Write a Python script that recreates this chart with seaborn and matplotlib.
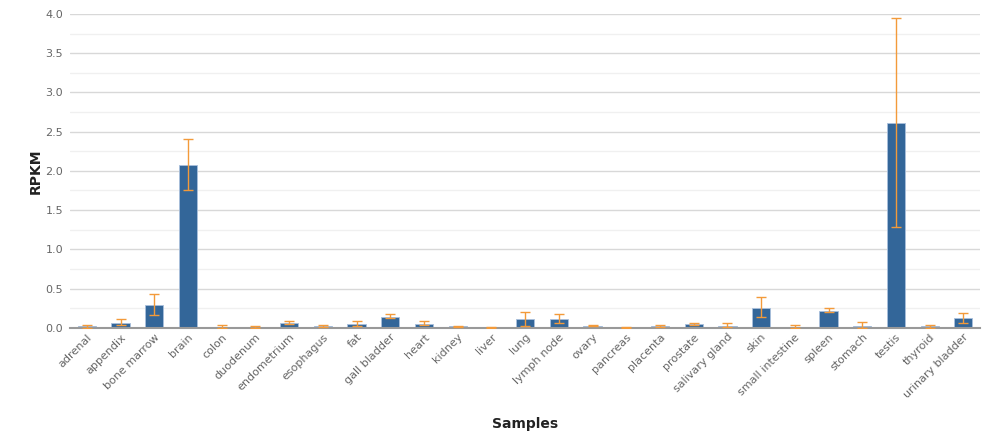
import numpy as np
import pandas as pd
import matplotlib
matplotlib.use("Agg")
import matplotlib.pyplot as plt
import seaborn as sns
from matplotlib.ticker import MultipleLocator

samples = ["adrenal", "appendix", "bone marrow", "brain", "colon", "duodenum",
           "endometrium", "esophagus", "fat", "gall bladder", "heart", "kidney",
           "liver", "lung", "lymph node", "ovary", "pancreas", "placenta",
           "prostate", "salivary gland", "skin", "small intestine", "spleen",
           "stomach", "testis", "thyroid", "urinary bladder"]
rpkm = [0.02, 0.06, 0.29, 2.08, 0.013, 0.008, 0.06, 0.02, 0.047, 0.14, 0.047, 0.017,
        0.004, 0.106, 0.106, 0.025, 0.004, 0.025, 0.047, 0.025, 0.254, 0.013, 0.212,
        0.025, 2.61, 0.017, 0.12]
err_low = [0.0, 0.034, 0.16, 1.75, 0.0, 0.0, 0.042, 0.01, 0.017, 0.12, 0.03, 0.01,
           0.0, 0.017, 0.055, 0.017, 0.002, 0.013, 0.035, 0.008, 0.136, 0.0, 0.195,
           0.0, 1.29, 0.0, 0.055]
err_high = [0.04, 0.106, 0.436, 2.41, 0.04, 0.016, 0.08, 0.03, 0.09, 0.18, 0.09, 0.025,
            0.008, 0.2, 0.174, 0.04, 0.006, 0.04, 0.064, 0.055, 0.386, 0.04, 0.246,
            0.068, 3.95, 0.04, 0.19]

df = pd.DataFrame({"Samples": samples, "RPKM": rpkm})

sns.set_style("white")
plt.rcParams['font.family'] = ['DejaVu Sans']

fig = plt.figure(figsize=(9.83, 4.37), dpi=100)
ax = fig.add_axes([0.0712, 0.25, 0.926, 0.718])

sns.barplot(data=df, x="Samples", y="RPKM", color="#336699", saturation=1,
            width=0.54, edgecolor="#a9c0dc", linewidth=0.6, ax=ax, errorbar=None)

x = np.arange(len(samples))
vals = np.array(rpkm)
lower = np.clip(vals - np.array(err_low), 0, None)
upper = np.clip(np.array(err_high) - vals, 0, None)
ax.errorbar(x, vals, yerr=[lower, upper], fmt="none", ecolor="#f39a3a",
            elinewidth=1.0, capsize=3.4, capthick=1.0, zorder=3)

ax.set_ylim(0, 4.0)
ax.set_xlim(-0.5, len(samples) - 0.5)
ax.yaxis.set_major_locator(MultipleLocator(0.5))
ax.yaxis.set_minor_locator(MultipleLocator(0.25))
ax.grid(axis="y", which="major", color="#d8d8d8", linewidth=1.0)
ax.grid(axis="y", which="minor", color="#f0f0f0", linewidth=1.0)
ax.set_axisbelow(True)
for s in ["top", "right", "left"]:
    ax.spines[s].set_visible(False)
ax.spines["bottom"].set_color("#999999")
ax.spines["bottom"].set_linewidth(1.5)

ax.yaxis.set_major_formatter(matplotlib.ticker.FormatStrFormatter("%.1f"))
ax.tick_params(axis="y", which="both", length=0, labelsize=8, labelcolor="#666666", pad=5)
ax.tick_params(axis="x", length=0, labelsize=8, labelcolor="#666666", pad=3)
plt.setp(ax.get_xticklabels(), rotation=45, ha="right", rotation_mode="anchor")

ax.set_ylabel("RPKM", fontsize=10, fontweight="bold", color="#222222")
ax.yaxis.set_label_coords(-0.03, 0.5)
ax.set_xlabel("Samples", fontsize=10, fontweight="bold", color="#222222")
ax.xaxis.set_label_coords(0.5, -0.285)

fig.savefig("out.png", dpi=100)
